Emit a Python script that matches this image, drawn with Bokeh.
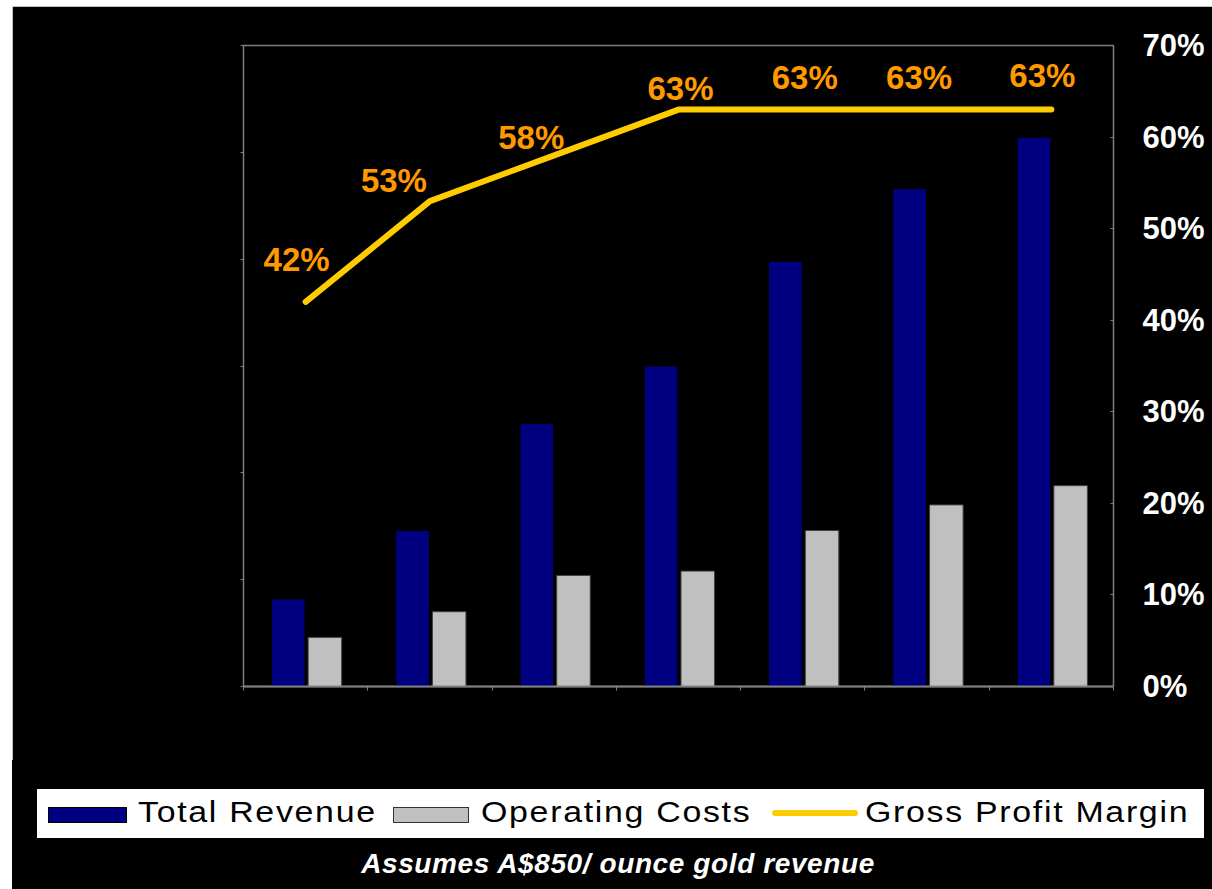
from bokeh.plotting import figure
from bokeh.layouts import column, row
from bokeh.models import (Range1d, LinearAxis, FixedTicker, Div,
                          ColumnDataSource, NumeralTickFormatter, CustomJSTickFormatter, Spacer)
from bokeh.transform import dodge
from bokeh.core.properties import value
from bokeh.embed import file_html
from bokeh.resources import INLINE

# ---- data ----
periods = [1, 2, 3, 4, 5, 6, 7]
total_revenue = [41, 73, 123, 150, 199, 233, 257]
operating_costs = [23, 35, 52, 54, 73, 85, 94]
gross_margin = [0.42, 0.53, 0.58, 0.63, 0.63, 0.63, 0.63]
pct_ticks = [0.0, 0.1, 0.2, 0.3, 0.4, 0.5, 0.6, 0.7]
left_ticks = [0, 50, 100, 150, 200, 250, 300]
series_names = ["Total Revenue", "Operating Costs", "Gross Profit Margin"]
footnote = "Assumes A$850/ ounce gold revenue"

# label placement tweaks (pixels)
label_dx = [-9, -36, -23, 2, 2, -8, -9]
label_dy = [-42, -21, -18, -21, -32, -32, -34]

FONT = "Liberation Sans"
BLUE = "#000080"
GREY = "#C0C0C0"
YELLOW = "#FFCC00"
ORANGE = "#FF9900"

src = ColumnDataSource(dict(
    x=periods, rev=total_revenue, cost=operating_costs, gm=gross_margin,
    lbl=[f"{round(v * 100)}%" for v in gross_margin], dx=label_dx, dy=label_dy,
))

W = 1200
p = figure(width=W, height=754, x_range=Range1d(0.5, 7.5), y_range=Range1d(0, 300),
           output_backend="svg", toolbar_location=None,
           min_border_left=231, min_border_right=99, min_border_top=39, min_border_bottom=74,
           background_fill_color="black", border_fill_color="black",
           outline_line_color="#808080", outline_line_width=1.5)
p.xgrid.visible = False
p.ygrid.visible = False

empty = CustomJSTickFormatter(code="return ''")

# left (bar) axis: ticks only
p.yaxis.ticker = FixedTicker(ticks=left_ticks)
p.yaxis.formatter = empty
p.yaxis.major_label_text_font_size = "1px"
p.yaxis.major_label_standoff = 0
p.yaxis.axis_line_color = "#808080"
p.yaxis.major_tick_line_color = "#808080"
p.yaxis.major_tick_out = 3
p.yaxis.major_tick_in = 0
p.yaxis.minor_tick_line_color = None

# bottom axis: boundary ticks only
p.xaxis.ticker = FixedTicker(ticks=[0.5 + i for i in range(8)])
p.xaxis.formatter = empty
p.xaxis.major_label_text_font_size = "1px"
p.xaxis.major_label_standoff = 0
p.xaxis.axis_line_color = "#808080"
p.xaxis.axis_line_width = 2
p.xaxis.major_tick_line_color = "#808080"
p.xaxis.major_tick_out = 4
p.xaxis.major_tick_in = 0
p.xaxis.minor_tick_line_color = None

# right percentage axis
p.extra_y_ranges = {"pct": Range1d(0, 0.7)}
ax = LinearAxis(y_range_name="pct", ticker=FixedTicker(ticks=pct_ticks),
                formatter=NumeralTickFormatter(format="0%"))
ax.major_label_text_color = "white"
ax.major_label_text_font = FONT
ax.major_label_text_font_style = "bold"
ax.major_label_text_font_size = "31px"
ax.major_label_standoff = 29
ax.axis_line_color = "#808080"
ax.major_tick_line_color = "#808080"
ax.major_tick_in = 3
ax.major_tick_out = 0
ax.minor_tick_line_color = None
p.add_layout(ax, "right")

p.vbar(x=dodge("x", -0.14, range=p.x_range), top="rev", width=0.27, bottom=0,
       source=src, fill_color=BLUE, line_color="black", line_width=1)
p.vbar(x=dodge("x", 0.155, range=p.x_range), top="cost", width=0.27, bottom=0,
       source=src, fill_color=GREY, line_color="#404040", line_width=1)
p.line(x="x", y="gm", source=src, y_range_name="pct", line_color=YELLOW,
       line_width=6, line_cap="round", line_join="round")
p.text(x="x", y="gm", text="lbl", source=src, y_range_name="pct",
       x_offset="dx", y_offset="dy", text_color=ORANGE, text_font=value(FONT),
       text_font_style="bold", text_font_size="33px", text_align="center",
       text_baseline="middle")

# ---- legend + footnote strip (HTML) ----
swatches = [
    f"background:{BLUE};border:1px solid #000;height:16px;top:47px;width:79px;",
    f"background:{GREY};border:1px solid #333;height:16px;top:47px;width:76px;",
    f"background:{YELLOW};height:6px;top:50px;width:86px;border-radius:3px;",
]
swatch_left = [36, 381, 760]
text_left = [126, 469, 853]

parts = ['<div style="position:relative;width:1200px;height:129px;background:#000;'
         'margin:0;padding:0;overflow:hidden;">',
         '<div style="position:absolute;left:25px;top:29px;width:1167px;height:49px;'
         'background:#fff;"></div>']
for name, sw, sl, tl in zip(series_names, swatches, swatch_left, text_left):
    parts.append(f'<div style="position:absolute;left:{sl}px;box-sizing:border-box;{sw}"></div>')
    parts.append(f'<div style="position:absolute;left:{tl}px;top:37px;font-family:\'{FONT}\';'
                 f'font-size:30px;line-height:30px;letter-spacing:1.5px;color:#000;'
                 f'transform:scaleX(1.13);transform-origin:0 0;'
                 f'white-space:nowrap;">{name}</div>')
parts.append(f'<div style="position:absolute;left:606px;top:90px;transform:translateX(-50%);'
             f'font-family:\'{FONT}\';font-size:28px;line-height:28px;font-weight:bold;'
             f'font-style:italic;letter-spacing:0.6px;color:#fff;white-space:nowrap;">'
             f'{footnote}</div>')
parts.append('</div>')

strip = Div(text="".join(parts), width=W, height=129, margin=0)

layout = column(Spacer(height=6),
                row(Spacer(width=12), column(p, strip, spacing=0), spacing=0),
                spacing=0)

open("out.html", "w").write(file_html(layout, INLINE))
